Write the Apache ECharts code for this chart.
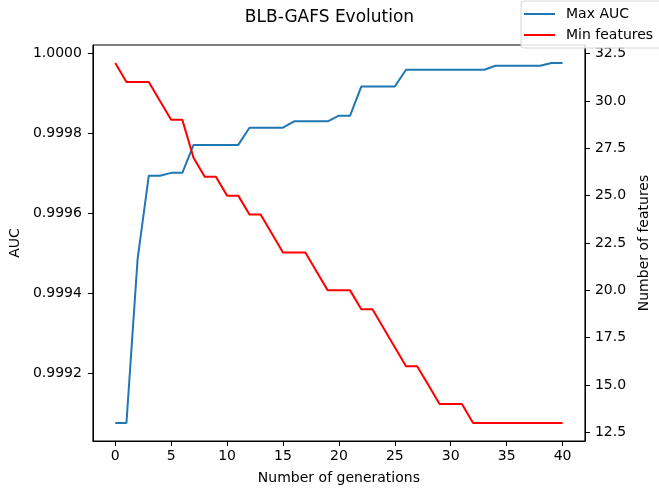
<!DOCTYPE html>
<html>
<head>
<meta charset="utf-8">
<script src="https://cdn.jsdelivr.net/npm/echarts@6/dist/echarts.min.js"></script>
<style>
  html, body { margin: 0; padding: 0; background: #fff; }
  #main { width: 659px; height: 494px; }
</style>
</head>
<body>
<div id="main"></div>
<script>
var chartDom = document.getElementById('main');
var myChart = echarts.init(chartDom);
var option;

// best AUC per generation (left axis)
var maxAuc = [
  0.999075, 0.999075, 0.999486, 0.999694, 0.999694, 0.999701, 0.999701, 0.999771,
  0.999771, 0.999771, 0.999771, 0.999771, 0.999814, 0.999814, 0.999814, 0.999814,
  0.999830, 0.999830, 0.999830, 0.999830, 0.999844, 0.999844, 0.999917, 0.999917,
  0.999917, 0.999917, 0.999959, 0.999959, 0.999959, 0.999959, 0.999959, 0.999959,
  0.999959, 0.999959, 0.999969, 0.999969, 0.999969, 0.999969, 0.999969, 0.999976,
  0.999976
];

// smallest feature count per generation (right axis)
var minFeatures = [
  32, 31, 31, 31, 30, 29, 29, 27, 26, 26, 25, 25, 24, 24, 23, 22,
  22, 22, 21, 20, 20, 20, 19, 19, 18, 17, 16, 16, 15, 14, 14, 14,
  13, 13, 13, 13, 13, 13, 13, 13, 13
];

// tick positions
var genTicks = [0, 5, 10, 15, 20, 25, 30, 35, 40];
var aucTicks = [0.9992, 0.9994, 0.9996, 0.9998, 1.0];
var featTicks = [12.5, 15, 17.5, 20, 22.5, 25, 27.5, 30, 32.5];

var font = 'DejaVu Sans';

function axisBase(ticks) {
  return {
    axisLine: { show: true, onZero: false, lineStyle: { color: '#000', width: 1 } },
    axisTick: { show: true, length: 5, lineStyle: { color: '#000' }, customValues: ticks },
    splitLine: { show: false }
  };
}

option = {
  animation: false,
  backgroundColor: '#fff',
  title: {
    text: 'BLB-GAFS Evolution',
    left: 'center',
    top: 4,
    textStyle: { fontFamily: font, fontSize: 17, fontWeight: 'normal', color: '#000' }
  },
  legend: {
    orient: 'vertical',
    left: 521,
    top: 1,
    padding: [5, 12, 5, 3],
    itemGap: 5,
    itemWidth: 31,
    itemHeight: 2,
    icon: 'rect',
    borderColor: '#d6d6d6',
    borderWidth: 1,
    borderRadius: 3,
    backgroundColor: 'rgba(255,255,255,0.85)',
    textStyle: { fontFamily: font, fontSize: 14, color: '#000', lineHeight: 16, padding: [0, 0, 0, 6] },
    data: ['Max AUC', 'Min features']
  },
  grid: {
    left: 92,
    right: 71,
    top: 45,
    bottom: 53,
    show: true,
    borderColor: '#000',
    borderWidth: 1
  },
  xAxis: Object.assign(axisBase(genTicks), {
    type: 'value',
    min: -2,
    max: 42,
    name: 'Number of generations',
    nameLocation: 'middle',
    nameGap: 30,
    nameTextStyle: { fontFamily: font, fontSize: 14, color: '#000' },
    axisLabel: {
      margin: 8,
      fontFamily: font, fontSize: 14, color: '#000',
      customValues: genTicks,
      formatter: function (v) { return String(v); }
    }
  }),
  yAxis: [
    Object.assign(axisBase(aucTicks), {
      type: 'value',
      position: 'left',
      min: 0.99903,
      max: 1.000021,
      name: 'AUC',
      nameLocation: 'middle',
      nameRotate: 90,
      nameGap: 68,
      nameTextStyle: { fontFamily: font, fontSize: 14, color: '#000' },
      axisLabel: {
        margin: 11,
        fontFamily: font, fontSize: 14, color: '#000',
        customValues: aucTicks,
        formatter: function (v) { return v.toFixed(4); }
      }
    }),
    Object.assign(axisBase(featTicks), {
      type: 'value',
      position: 'right',
      min: 12.05,
      max: 32.95,
      name: 'Number of features',
      nameLocation: 'middle',
      nameRotate: 90,
      nameGap: 48,
      nameTextStyle: { fontFamily: font, fontSize: 14, color: '#000' },
      axisLabel: {
        margin: 10,
        fontFamily: font, fontSize: 14, color: '#000',
        customValues: featTicks,
        formatter: function (v) { return v.toFixed(1); }
      }
    })
  ],
  series: [
    {
      name: 'Max AUC',
      type: 'line',
      yAxisIndex: 0,
      showSymbol: false,
      color: '#1f77b4',
      lineStyle: { width: 2, color: '#1f77b4' },
      data: maxAuc.map(function (v, i) { return [i, v]; })
    },
    {
      name: 'Min features',
      type: 'line',
      yAxisIndex: 1,
      showSymbol: false,
      color: '#ff0000',
      lineStyle: { width: 2, color: '#ff0000' },
      data: minFeatures.map(function (v, i) { return [i, v]; })
    }
  ]
};

option && myChart.setOption(option);
</script>
</body>
</html>
